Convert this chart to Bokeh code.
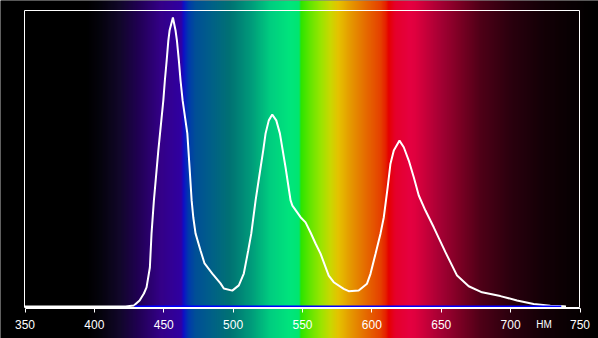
import numpy as np
from bokeh.plotting import figure
from bokeh.models import Range1d, LinearAxis, FixedTicker, BoxAnnotation, Label
from bokeh.embed import file_html
from bokeh.resources import INLINE

# ---- data -------------------------------------------------------------
wavelength_nm = [350, 422.5, 428.5, 432.6, 435.7, 437.6, 440.0, 441.2, 442.9, 446.1,
                 449.7, 450.8, 452.1, 453.3, 454.2, 456.6, 458.5, 459.5, 460.9, 462.1,
                 463.6, 467.0, 468.6, 470.1, 471.3, 472.9, 476.5, 479.4, 485.0, 490.9,
                 493.3, 499.4, 504.1, 507.7, 510.9, 513.1, 516.2, 519.8, 521.7, 523.4,
                 525.7, 528.2, 531.1, 533.7, 537.8, 541.4, 542.7, 548.6, 552.2, 555.8,
                 559.4, 563.0, 568.9, 572.5, 579.7, 583.3, 590.5, 596.5, 599.0, 602.6,
                 606.2, 608.6, 611.4, 613.4, 615.8, 619.9, 623.0, 626.6, 630.2, 633.8,
                 638.6, 644.6, 653.0, 661.4, 669.8, 679.4, 692.6, 704.6, 716.6, 728.6,
                 738.2, 739.9]
intensity = [0.0, 0.0, 0.0035, 0.021, 0.045, 0.066, 0.135, 0.253, 0.367, 0.540,
             0.713, 0.782, 0.851, 0.920, 0.955, 1.000, 0.955, 0.920, 0.851, 0.782,
             0.713, 0.599, 0.481, 0.367, 0.308, 0.253, 0.194, 0.149, 0.114, 0.080,
             0.062, 0.055, 0.073, 0.114, 0.194, 0.253, 0.367, 0.481, 0.540, 0.599,
             0.644, 0.664, 0.644, 0.599, 0.481, 0.367, 0.349, 0.309, 0.291, 0.256,
             0.218, 0.183, 0.107, 0.084, 0.061, 0.053, 0.055, 0.079, 0.113, 0.182,
             0.252, 0.309, 0.413, 0.494, 0.540, 0.574, 0.551, 0.505, 0.447, 0.384,
             0.332, 0.274, 0.188, 0.107, 0.070, 0.049, 0.036, 0.021, 0.009, 0.003,
             0.001, 0.0]

baseline_nm = [429.0, 736.5]
baseline_value = [0.0, 0.0]

tick_values = [350, 400, 450, 500, 550, 600, 650, 700, 750]
unit_label = "НМ"

# background spectrum colour stops (wavelength, colour)
spectrum_nm = [332.3, 393.6, 404.4, 418.8, 433.2, 447.7, 462.8, 464.2, 467.8, 472.9,
               483.7, 498.1, 512.5, 526.9, 541.4, 547.8, 548.9, 555.8, 563.0, 570.2,
               575.9, 584.6, 595.4, 606.2, 610.5, 612.0, 617.0, 627.8, 631.4, 649.4,
               663.9, 678.3, 699.9, 721.5, 743.2, 763.4]
spectrum_colors = ["#000000", "#000000", "#06040e", "#140830", "#260062", "#3a0096",
                   "#3600b4", "#1010e0", "#0040c0", "#0058a8", "#006a98", "#008080",
                   "#00aa88", "#00e48e", "#00ff8a", "#00ff7c", "#30ff00", "#70ff00",
                   "#a8ff00", "#e0f000", "#ffd800", "#ffaa00", "#ff7800", "#ff4800",
                   "#ff2000", "#ff0000", "#ff0030", "#ff0048", "#f80046", "#b8003a",
                   "#880028", "#58001a", "#300010", "#180008", "#0a0003", "#000000"]

# ---- geometry ---------------------------------------------------------
W, H = 598, 338
PX_PER_NM = 555.0 / 400.0
X0 = 350 - 24.5 / PX_PER_NM
X1 = X0 + W / PX_PER_NM
PX_PER_UNIT = 289.0
Y1 = 306.0 / PX_PER_UNIT
Y0 = Y1 - H / PX_PER_UNIT

p = figure(width=W, height=H, x_range=Range1d(X0, X1), y_range=Range1d(Y0, Y1),
           output_backend="svg", toolbar_location=None,
           x_axis_location=None, y_axis_location=None, min_border=0,
           background_fill_color="black", border_fill_color="black",
           outline_line_color=None)
for g in p.grid:
    g.visible = False

# background spectrum as one-pixel-wide columns
step = 1.0 / PX_PER_NM
edges = X0 + step * np.arange(W + 1)
centers = 0.5 * (edges[:-1] + edges[1:])
rgb = np.array([[int(c[i:i + 2], 16) for i in (1, 3, 5)] for c in spectrum_colors], float)
cols = []
for xc in centers:
    r = np.interp(xc, spectrum_nm, rgb[:, 0])
    g_ = np.interp(xc, spectrum_nm, rgb[:, 1])
    b = np.interp(xc, spectrum_nm, rgb[:, 2])
    cols.append("#%02x%02x%02x" % (int(round(r)), int(round(g_)), int(round(b))))
p.quad(left=edges[:-1], right=edges[1:] + 0.3 * step, bottom=Y0, top=Y1,
       fill_color=cols, line_color=None)

# frame (snapped to whole pixels)
frame = BoxAnnotation(left=X0 + 24.0 * step, right=X0 + 579.0 * step,
                      top=296.0 / PX_PER_UNIT, bottom=-1.0 / PX_PER_UNIT,
                      fill_color=None, fill_alpha=0, line_color="white",
                      line_alpha=1.0, line_width=1)
p.add_layout(frame)

# x axis
xaxis = LinearAxis(fixed_location=-1.5 / PX_PER_UNIT, bounds=(350, 750),
                   ticker=FixedTicker(ticks=tick_values),
                   axis_line_color="white", axis_line_width=1,
                   major_tick_line_color="white", major_tick_out=4, major_tick_in=0,
                   minor_tick_line_color=None,
                   major_label_text_color="white",
                   major_label_text_font="Liberation Sans",
                   major_label_text_font_size="12px",
                   major_label_standoff=8)
p.add_layout(xaxis, "below")

# spectrum curve and baseline
p.line(wavelength_nm, intensity, line_color="white", line_width=2)
p.line(baseline_nm, baseline_value, line_color="#0000ff", line_width=2)

p.add_layout(Label(x=718.4, y=-17.5 / PX_PER_UNIT, text=unit_label, text_color="white",
                   text_font="Liberation Sans", text_font_size="10px",
                   text_baseline="alphabetic"))

open("out.html", "w").write(file_html(p, INLINE))
